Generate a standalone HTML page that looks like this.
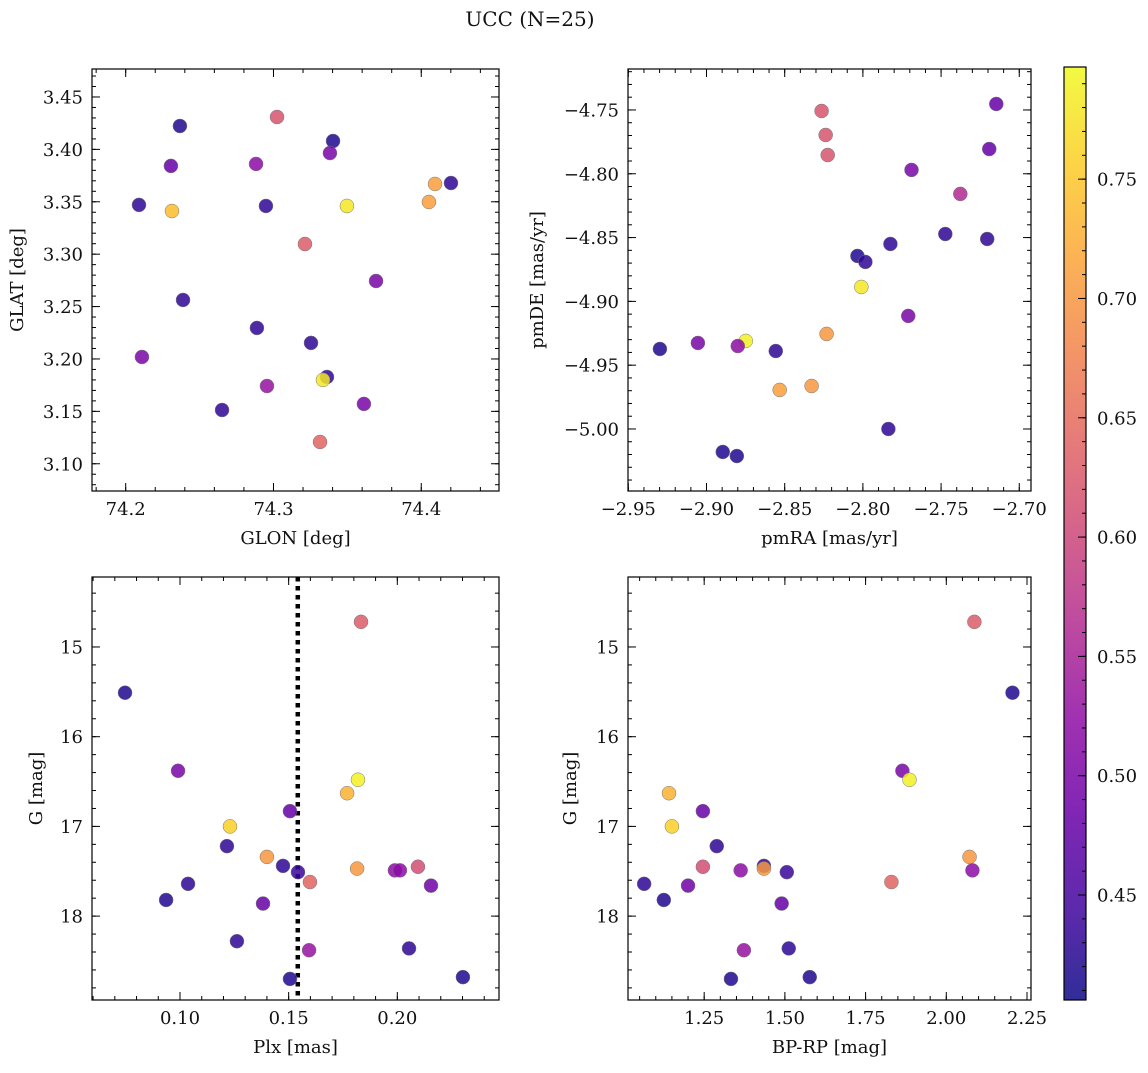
<!DOCTYPE html>
<html><head><meta charset="utf-8"><style>
body{margin:0;background:#fff}
svg text{font-family:"DejaVu Serif","Liberation Serif",serif;fill:#111}
</style></head><body>
<svg id="fig" width="1148" height="1068" viewBox="0 0 1148 1068" xmlns="http://www.w3.org/2000/svg">
<defs><linearGradient id="cbgrad" x1="0" y1="1" x2="0" y2="0">
<stop offset="0" stop-color="#0d0887"/><stop offset="0.1" stop-color="#41049d"/><stop offset="0.2" stop-color="#6a00a8"/><stop offset="0.3" stop-color="#8f0da4"/><stop offset="0.4" stop-color="#b12a90"/><stop offset="0.5" stop-color="#cc4778"/><stop offset="0.6" stop-color="#e16462"/><stop offset="0.7" stop-color="#f2844b"/><stop offset="0.8" stop-color="#fca636"/><stop offset="0.9" stop-color="#fcce25"/><stop offset="1" stop-color="#f0f921"/>
</linearGradient></defs>
<text x="530" y="26" font-size="20" text-anchor="middle">UCC (N=25)</text>
</svg>
<script>
// Top-left: GLON/GLAT
const tlGlon=[74.2367,74.3024,74.3403,74.3382,74.4201,74.2306,74.2882,74.4093,74.2090,74.2313,74.2949,74.3497,74.4052,74.3213,74.3694,74.2388,74.2888,74.3254,74.2110,74.3362,74.3335,74.2956,74.2652,74.3612,74.3315];
const tlGlat=[3.4223,3.4309,3.4080,3.3965,3.3679,3.3842,3.3861,3.3670,3.3470,3.3412,3.3460,3.3460,3.3498,3.3097,3.2744,3.2563,3.2296,3.2153,3.2019,3.1828,3.1800,3.1742,3.1513,3.1571,3.1208];
const tlColor=[0.42,0.62,0.42,0.50,0.43,0.48,0.52,0.71,0.43,0.74,0.43,0.78,0.71,0.63,0.50,0.43,0.43,0.43,0.50,0.43,0.78,0.53,0.43,0.50,0.64];
// Top-right: pmRA/pmDE
const trPmra=[-2.8264,-2.8238,-2.8225,-2.7147,-2.7192,-2.7689,-2.7377,-2.7473,-2.7205,-2.7824,-2.8035,-2.7984,-2.8010,-2.7710,-2.8232,-2.8749,-2.9055,-2.8800,-2.9298,-2.8557,-2.8328,-2.8532,-2.7837,-2.8896,-2.8806];
const trPmde=[-4.7508,-4.7696,-4.7853,-4.7453,-4.7806,-4.7970,-4.8158,-4.8472,-4.8511,-4.8550,-4.8644,-4.8691,-4.8887,-4.9114,-4.9255,-4.9310,-4.9326,-4.9350,-4.9373,-4.9389,-4.9663,-4.9694,-5.0000,-5.0180,-5.0212];
const trColor=[0.62,0.62,0.62,0.48,0.48,0.50,0.56,0.43,0.43,0.43,0.42,0.43,0.78,0.50,0.70,0.79,0.50,0.52,0.42,0.43,0.70,0.71,0.43,0.42,0.42];
// Bottom: plx, G, BP-RP
const plx=[0.1833,0.0747,0.0991,0.1819,0.1769,0.1506,0.1230,0.1216,0.1400,0.1474,0.2095,0.1815,0.1989,0.2012,0.1543,0.1598,0.1037,0.2155,0.0936,0.1382,0.1262,0.2054,0.1594,0.2302,0.1506];
const gmag=[14.72,15.51,16.38,16.48,16.63,16.83,17.00,17.22,17.34,17.44,17.45,17.47,17.49,17.49,17.51,17.62,17.64,17.66,17.82,17.86,18.28,18.36,18.38,18.68,18.70];
const bprp=[2.087,2.205,1.864,1.886,1.141,1.246,1.150,1.289,2.072,1.435,1.246,1.435,1.363,2.081,1.506,1.830,1.064,1.200,1.125,1.490,null,1.512,1.373,1.577,1.333];
const botColor=[0.63,0.42,0.50,0.79,0.73,0.48,0.76,0.43,0.70,0.43,0.61,0.70,0.52,0.52,0.44,0.64,0.43,0.49,0.42,0.48,0.43,0.43,0.53,0.42,0.42];
const plxLine=[0.1542];
const cbTicks=[0.45,0.50,0.55,0.60,0.65,0.70,0.75];

const NS="http://www.w3.org/2000/svg";
const svg=document.getElementById('fig');
function mk(tag,attrs,parent){const e=document.createElementNS(NS,tag);for(const k in attrs)e.setAttribute(k,attrs[k]);(parent||svg).appendChild(e);return e;}
const CMIN=0.406,CMAX=0.797;
const stops=["#0d0887","#41049d","#6a00a8","#8f0da4","#b12a90","#cc4778","#e16462","#f2844b","#fca636","#fcce25","#f0f921"].map(h=>[parseInt(h.slice(1,3),16),parseInt(h.slice(3,5),16),parseInt(h.slice(5,7),16)]);
function cmap(v){let t=(v-CMIN)/(CMAX-CMIN);t=Math.max(0,Math.min(1,t))*10;const i=Math.min(9,Math.floor(t)),f=t-i;const a=stops[i],b=stops[i+1];return `rgb(${a.map((x,k)=>Math.round(x+(b[k]-x)*f)).join(',')})`;}
function fmt(v,d){return v.toFixed(d).replace('-','\u2212');}

function panel(p){
  const g=mk('g',{});
  
  
  const sx=v=>p.x0+(v-p.xmin)/(p.xmax-p.xmin)*(p.x1-p.x0);
  const sy=v=>p.inv? p.y0+(v-p.ymin)/(p.ymax-p.ymin)*(p.y1-p.y0) : p.y1-(v-p.ymin)/(p.ymax-p.ymin)*(p.y1-p.y0);
  const tg=mk('g',{stroke:'#000','stroke-width':1},g);
  function ticks(min,max,step){const out=[];let s=Math.ceil(min/step-1e-9);for(let k=s;k*step<=max+1e-9;k++)out.push(+(k*step).toFixed(6));return out;}
  ticks(p.xmin,p.xmax,p.xminor).forEach(v=>{const x=sx(v);mk('line',{x1:x,x2:x,y1:p.y1,y2:p.y1-4},tg);mk('line',{x1:x,x2:x,y1:p.y0,y2:p.y0+4},tg);});
  ticks(p.ymin,p.ymax,p.yminor).forEach(v=>{const y=sy(v);mk('line',{x1:p.x0,x2:p.x0+4,y1:y,y2:y},tg);mk('line',{x1:p.x1,x2:p.x1-4,y1:y,y2:y},tg);});
  ticks(p.xmin,p.xmax,p.xmajor).forEach(v=>{const x=sx(v);mk('line',{x1:x,x2:x,y1:p.y1,y2:p.y1-8},tg);mk('line',{x1:x,x2:x,y1:p.y0,y2:p.y0+8},tg);
    const t=mk('text',{x:x,y:p.y1+24,'font-size':18,'text-anchor':'middle'},g);t.textContent=fmt(v,p.xdec);
    
    });
  ticks(p.ymin,p.ymax,p.ymajor).forEach(v=>{const y=sy(v);mk('line',{x1:p.x0,x2:p.x0+8,y1:y,y2:y},tg);mk('line',{x1:p.x1,x2:p.x1-8,y1:y,y2:y},tg);
    const t=mk('text',{x:p.x0-9,y:y+6.5,'font-size':18,'text-anchor':'end'},g);t.textContent=fmt(v,p.ydec);
    
    });
  if(p.vline){p.vline.forEach(v=>{const l=mk('line',{x1:sx(v),x2:sx(v),y1:p.y0,y2:p.y1,stroke:'#000','stroke-width':4.5,'stroke-dasharray':'4.5,4.5'},g);
    
    });}
  p.xs.forEach((xv,i)=>{if(xv===null||xv===undefined)return;const c=mk('circle',{cx:sx(xv),cy:sy(p.ys[i]),r:7,fill:cmap(p.cs[i]),'fill-opacity':0.85,stroke:'#777','stroke-width':0.5},g);
    
    });
  mk('rect',{x:p.x0,y:p.y0,width:p.x1-p.x0,height:p.y1-p.y0,fill:'none',stroke:'#000','stroke-width':1.2},g);
  const xl=mk('text',{x:(p.x0+p.x1)/2,y:p.y1+53,'font-size':18,'text-anchor':'middle'},g);xl.textContent=p.xlabel;
  
  
  const cy=(p.y0+p.y1)/2;
  const yl=mk('text',{x:p.ylx,y:cy,'font-size':18,'text-anchor':'middle',transform:`rotate(-90 ${p.ylx} ${cy})`},g);yl.textContent=p.ylabel;
  
  
}

panel({name:'glon-glat-panel',x0:92,x1:499,y0:69,y1:491,xmin:74.1772,xmax:74.4526,ymin:3.0740,ymax:3.4767,xmajor:0.1,xminor:0.02,ymajor:0.05,yminor:0.01,xdec:1,ydec:2,xs:tlGlon,ys:tlGlat,cs:tlColor,xlabel:'GLON [deg]',ylabel:'GLAT [deg]',ylx:23});
panel({name:'pm-panel',x0:628,x1:1031,y0:69,y1:491,xmin:-2.9502,xmax:-2.6925,ymin:-5.0486,ymax:-4.7179,xmajor:0.05,xminor:0.01,ymajor:0.05,yminor:0.01,xdec:2,ydec:2,xs:trPmra,ys:trPmde,cs:trColor,xlabel:'pmRA [mas/yr]',ylabel:'pmDE [mas/yr]',ylx:543});
panel({name:'plx-g-panel',x0:92,x1:499,y0:577,y1:1000,xmin:0.0595,xmax:0.2468,ymin:14.22,ymax:18.935,inv:true,xmajor:0.05,xminor:0.01,ymajor:1,yminor:0.2,xdec:2,ydec:0,xs:plx,ys:gmag,cs:botColor,vline:plxLine,xlabel:'Plx [mas]',ylabel:'G [mag]',ylx:42});
panel({name:'cmd-panel',x0:628,x1:1031,y0:577,y1:1000,xmin:1.014,xmax:2.2624,ymin:14.22,ymax:18.935,inv:true,xmajor:0.25,xminor:0.05,ymajor:1,yminor:0.2,xdec:2,ydec:0,xs:bprp,ys:gmag,cs:botColor,xlabel:'BP-RP [mag]',ylabel:'G [mag]',ylx:576});

const cb=mk('g',{});


const CB={x0:1064,x1:1086,y0:67,y1:1000};
mk('rect',{x:CB.x0,y:CB.y0,width:CB.x1-CB.x0,height:CB.y1-CB.y0,fill:'url(#cbgrad)','fill-opacity':0.85},cb);
mk('rect',{x:CB.x0,y:CB.y0,width:CB.x1-CB.x0,height:CB.y1-CB.y0,fill:'none',stroke:'#000','stroke-width':1.2},cb);
const cby=v=>CB.y1-(v-CMIN)/(CMAX-CMIN)*(CB.y1-CB.y0);
for(let v=0.41;v<=CMAX;v+=0.01){const y=cby(v);mk('line',{x1:CB.x1,x2:CB.x1-4,y1:y,y2:y,stroke:'#000'},cb);}
cbTicks.forEach(v=>{const y=cby(v);mk('line',{x1:CB.x1,x2:CB.x1-8,y1:y,y2:y,stroke:'#000'},cb);
  const t=mk('text',{x:CB.x1+11,y:y+6.5,'font-size':18},cb);t.textContent=v.toFixed(2);
  
  });
</script>
</body></html>
